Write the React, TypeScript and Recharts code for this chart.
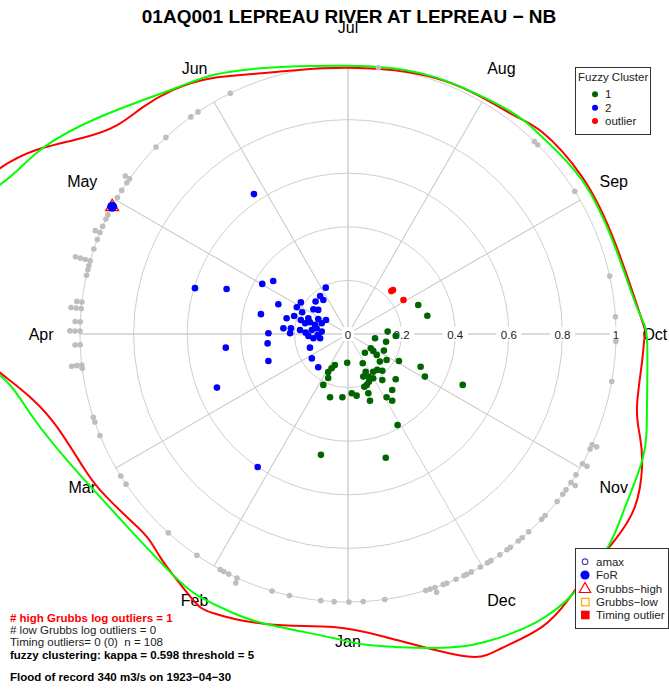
import React from 'react';
import { ScatterChart, Scatter, XAxis, YAxis } from 'recharts';

// page / polar frame
const W = 669;
const H = 689;
const CX = 348; // pixel of the polar centre
const CY = 334;
const UNIT = 268; // pixels for radius 1
const XMIN = -CX / UNIT;
const XMAX = (W - CX) / UNIT;
const YMAX = CY / UNIT;
const YMIN = -(H - CY) / UNIT;
const FONT = '"Liberation Sans", Arial, Helvetica, sans-serif';
const GRID = '#cfcfcf';

const MONTHS = ['Jan', 'Feb', 'Mar', 'Apr', 'May', 'Jun', 'Jul', 'Aug', 'Sep', 'Oct', 'Nov', 'Dec'];
const RING_TICKS = [0, 0.2, 0.4, 0.6, 0.8, 1];

// annual maxima: [day of year, stack level]
const AMAX: [number, number][] = [
	[189.1, 0], [227.2, 0], [228.2, 0], [241.1, 0], [261.1, 0], [270.0, 0], [275.4, 0], [284.1, 0],
	[298.5, 0], [298.5, 1], [299.5, 0], [303.1, 0], [303.1, 1], [305.9, 0], [307.9, 0], [307.9, 1],
	[309.8, 0], [311.0, 0], [313.0, 0], [317.0, 0], [318.1, 0], [322.0, 0], [323.9, 0], [325.0, 0],
	[327.2, 0], [328.1, 0], [330.0, 0], [332.3, 0], [333.2, 0], [335.0, 0], [337.2, 0], [338.3, 0],
	[339.0, 0], [340.9, 0], [343.1, 0], [343.9, 0], [345.8, 0], [345.8, 1], [346.9, 0], [347.9, 0],
	[357.0, 0], [361.7, 0], [364.8, 0], [3.0, 0], [5.9, 0], [12.8, 0], [16.7, 0], [24.8, 0],
	[24.6, 1], [26.8, 0], [28.0, 0], [28.9, 0], [34.8, 0], [42.7, 0], [56.7, 0], [58.8, 0],
	[68.7, 0], [71.8, 0], [72.9, 0], [83.8, 0], [84.5, 0], [84.5, 1], [84.5, 2], [88.9, 0],
	[88.9, 1], [91.9, 0], [91.9, 1], [91.9, 2], [93.9, 0], [93.9, 1], [96.8, 0], [96.8, 1],
	[96.8, 2], [98.2, 0], [98.2, 1], [104.1, 0], [105.3, 0], [106.2, 0], [107.3, 0], [107.3, 1],
	[107.3, 2], [107.3, 3], [110.0, 0], [112.2, 0], [113.8, 0], [113.8, 1], [115.3, 0], [117.0, 0],
	[118.0, 0], [120.0, 0], [122.3, 0], [124.1, 0], [126.1, 0], [127.1, 0], [127.1, 1], [136.1, 0],
	[139.1, 0], [146.1, 0], [148.0, 0], [156.1, 0],
];
const STACK = 0.019;

// fuzzy cluster scores [x, y]
const CLUSTER1: [number, number][] = [
	[0.262, 0.108], [0.296, 0.068], [0.148, 0.009], [0.178, -0.007], [0.101, -0.016], [0.142, -0.029],
	[0.085, -0.053], [0.094, -0.063], [0.134, -0.062], [0.063, -0.07], [0.107, -0.078], [0.144, -0.097],
	[0.119, -0.103], [0.19, -0.101], [-0.003, -0.107], [0.055, -0.109], [-0.049, -0.116], [-0.061, -0.128],
	[0.109, -0.134], [0.128, -0.137], [0.066, -0.141], [0.094, -0.141], [-0.074, -0.142], [0.076, -0.159],
	[0.057, -0.159], [0.094, -0.165], [0.271, -0.122], [0.287, -0.159], [-0.074, -0.164], [0.178, -0.169],
	[0.128, -0.172], [-0.092, -0.19], [0.07, -0.19], [0.078, -0.178], [0.061, -0.197], [0.165, -0.209],
	[0.076, -0.221], [0.014, -0.221], [0.032, -0.23], [-0.067, -0.236], [-0.021, -0.236], [0.144, -0.236],
	[0.165, -0.249], [0.082, -0.249], [0.428, -0.19], [0.185, -0.34], [0.141, -0.462], [-0.101, -0.451],
];
const CLUSTER2: [number, number][] = [
	[-0.351, 0.522], [-0.571, 0.171], [-0.453, 0.168], [-0.32, 0.187], [-0.279, 0.198], [-0.26, 0.111],
	[-0.325, 0.074], [-0.297, 0.003], [-0.456, -0.051], [-0.3, -0.035], [-0.297, -0.101], [-0.489, -0.2],
	[-0.337, -0.496], [-0.083, 0.173], [-0.104, 0.142], [-0.092, 0.127], [-0.121, 0.121], [-0.176, 0.118],
	[-0.191, 0.1], [-0.129, 0.092], [-0.171, 0.081], [-0.201, 0.067], [-0.229, 0.059], [-0.111, 0.056],
	[-0.082, 0.052], [-0.176, 0.052], [-0.148, 0.059], [-0.142, 0.044], [-0.098, 0.04], [-0.123, 0.034],
	[-0.241, 0.021], [-0.213, 0.021], [-0.179, 0.015], [-0.158, 0.005], [-0.098, 0.009], [-0.113, -0.004],
	[-0.129, -0.016], [-0.216, 0.003], [-0.142, -0.051], [-0.135, -0.091], [-0.111, -0.124], [-0.111, 0.09],
	[-0.135, 0.015], [-0.117, 0.021], [-0.16, 0.04], [-0.104, -0.016], [-0.148, -0.007],
];
const OUTLIERS: [number, number][] = [[0.162, 0.16], [0.168, 0.164], [0.207, 0.127]];

// flood of record, 1923-04-30
const FLOOD_DAY = 120;

// seasonal density curves: [day of year, radius]
const DENS_MIXTURE: [number, number][] = [
	[93.3, 1.45], [101.4, 1.5], [109.5, 1.48], [116.5, 1.391], [123.1, 1.333], [133, 1.23], [146.5, 1.123],
	[154.6, 1.09], [165.4, 1.038], [179.3, 1.002], [189, 1.003], [201.5, 1.012], [218.5, 1.027], [227.7, 1.032],
	[240, 1.045], [255.5, 1.048], [269, 1.086], [274.9, 1.116], [287.6, 1.148], [296.7, 1.193], [306.2, 1.219],
	[313.6, 1.254], [323.1, 1.282], [331.6, 1.284], [340.7, 1.258], [349.3, 1.216], [361.2, 1.163], [2.8, 1.136],
	[15.8, 1.124], [22.7, 1.126], [29.8, 1.126], [36.5, 1.111], [47.9, 1.093], [57.5, 1.107], [66.7, 1.149],
	[76.2, 1.216], [82.5, 1.275], [87.2, 1.36], [93.3, 1.45],
];
const DENS_KERNEL: [number, number][] = [
	[91.3, 1.45], [101.4, 1.52], [111.5, 1.5], [118.6, 1.415], [123.1, 1.333], [128.3, 1.23], [133.9, 1.162],
	[139.8, 1.141], [146.4, 1.12], [154.3, 1.08], [165.1, 1.02], [179.7, 0.994], [201.6, 1.009], [218.8, 1.021],
	[226.9, 1.045], [239.4, 1.052], [254.7, 1.053], [271.0, 1.098], [274.0, 1.108], [279.4, 1.102], [288.1, 1.112],
	[293.4, 1.155], [298.4, 1.204], [305.3, 1.25], [312.0, 1.258], [319.3, 1.264], [324.9, 1.288], [331.0, 1.311],
	[338.5, 1.305], [343.2, 1.295], [349.4, 1.223], [357.9, 1.139], [2.9, 1.095], [15.8, 1.124], [26.2, 1.157],
	[30.6, 1.149], [36.5, 1.111], [40.7, 1.088], [45.3, 1.066], [51.1, 1.071], [58.6, 1.093], [64.2, 1.106],
	[73.3, 1.14], [79.3, 1.201], [83.3, 1.273], [87.2, 1.36], [91.3, 1.45],
];

// Jan 1 at the bottom, running clockwise
function toXY(day: number, r: number) {
	const a = -Math.PI / 2 - (2 * Math.PI * day) / 365;
	return { x: r * Math.cos(a), y: r * Math.sin(a) };
}
function monthXY(i: number, r: number) {
	const a = -Math.PI / 2 - (i * Math.PI) / 6;
	return { x: r * Math.cos(a), y: r * Math.sin(a) };
}

const ringData = RING_TICKS.filter((t) => t > 0).map((t) => ({ x: 0, y: 0, ring: t }));
const spokeData = MONTHS.flatMap((_, i) => [{ x: 0, y: 0 }, monthXY(i, 1)]);
const tickData = RING_TICKS.map((t) => ({ x: t, y: 0, label: String(t) }));
const monthData = MONTHS.map((m, i) => ({ ...monthXY(i, 1.145), label: m }));
const amaxData = AMAX.map(([d, k]) => toXY(d, 1 + k * STACK));
const xy = (p: [number, number][]) => p.map(([x, y]) => ({ x, y }));
const floodData = [toXY(FLOOD_DAY, 1)];

const Empty = () => <g />;
const dot = (r: number, fill: string) => (p: any) => <circle cx={p.cx} cy={p.cy} r={r} fill={fill} />;

const RingShape = (p: any) => (
	<circle cx={p.cx} cy={p.cy} r={p.payload.ring * UNIT} fill="none" stroke={GRID} strokeWidth={1} />
);
const TickLabel = (p: any) => {
	const w = p.payload.label.length * 6.4 + 6;
	return (
		<g>
			<rect x={p.cx - w / 2} y={p.cy - 7} width={w} height={14} fill="#fff" />
			<text x={p.cx} y={p.cy + 5} textAnchor="middle" fontSize={11.5} fontFamily={FONT} fill="#222">
				{p.payload.label}
			</text>
		</g>
	);
};
const MonthLabel = (p: any) => (
	<text x={p.cx} y={p.cy + 6} textAnchor="middle" fontSize={16} fontFamily={FONT} fill="#000">
		{p.payload.label}
	</text>
);
const FloodShape = (p: any) => (
	<g>
		<polygon
			points={`${p.cx},${p.cy - 7.5} ${p.cx - 6.5},${p.cy + 4} ${p.cx + 6.5},${p.cy + 4}`}
			fill="none"
			stroke="#ff0000"
			strokeWidth={1.3}
		/>
		<circle cx={p.cx} cy={p.cy} r={5} fill="#0000ff" />
	</g>
);

const CLUSTER_KEYS = [
	{ label: '1', color: '#006400' },
	{ label: '2', color: '#0000ff' },
	{ label: 'outlier', color: '#ff0000' },
];

function Annotations() {
	const t = { fontFamily: FONT, fontSize: 11.5 };
	return (
		<svg width={W} height={H} style={{ position: 'absolute', left: 0, top: 0, pointerEvents: 'none' }}>
			<text x={349} y={23} textAnchor="middle" fontFamily={FONT} fontSize={19} fontWeight="bold" fill="#000">
				01AQ001 LEPREAU RIVER AT LEPREAU − NB
			</text>

			<rect x={575.5} y={67.5} width={75} height={67} fill="#fff" stroke="#333" />
			<text x={578} y={80.5} {...t} fill="#222">Fuzzy Cluster</text>
			{CLUSTER_KEYS.map((k, i) => (
				<g key={k.label}>
					<circle cx={595} cy={94.3 + i * 13.4} r={3} fill={k.color} />
					<text x={605} y={98.3 + i * 13.4} {...t} fill="#222">{k.label}</text>
				</g>
			))}

			<rect x={575.5} y={548.5} width={93} height={80} fill="#fff" stroke="#333" />
			<circle cx={585} cy={561.7} r={2.8} fill="none" stroke="#4545a5" strokeWidth={1.1} />
			<circle cx={585} cy={575} r={4.6} fill="#0000ff" />
			<polygon points="585,582.5 579.3,592.5 590.7,592.5" fill="none" stroke="#ff0000" strokeWidth={1.2} />
			<rect x={581.5} y={598.3} width={7.5} height={7.5} fill="none" stroke="#ffa500" strokeWidth={1.2} />
			<rect x={581} y={610.7} width={8.6} height={8.6} fill="#ff0000" />
			{['amax', 'FoR', 'Grubbs−high', 'Grubbs−low', 'Timing outlier'].map((s, i) => (
				<text key={s} x={596} y={565.8 + i * 13.35} {...t} fill="#222">{s}</text>
			))}

			<text x={10} y={621.5} {...t} fontWeight="bold" fill="#ff0000"># high Grubbs log outliers = 1</text>
			<text x={10} y={633.6} {...t} fill="#222"># low Grubbs log outliers = 0</text>
			<text x={10} y={645.9} {...t} fill="#222" style={{ whiteSpace: 'pre' }}>Timing outliers= 0 (0)  n = 108</text>
			<text x={10} y={658.5} {...t} fontWeight="bold" fill="#000">fuzzy clustering: kappa = 0.598 threshold = 5</text>
			<text x={10} y={681} {...t} fontWeight="bold" fill="#000">Flood of record 340 m3/s on 1923−04−30</text>
		</svg>
	);
}

export default function App() {
	return (
		<div style={{ position: 'absolute', left: 0, top: 0, width: W, height: H, background: '#fff' }}>
			<ScatterChart width={W} height={H} margin={{ top: 0, right: 0, bottom: 0, left: 0 }}>
				<XAxis type="number" dataKey="x" domain={[XMIN, XMAX]} allowDataOverflow hide />
				<YAxis type="number" dataKey="y" domain={[YMIN, YMAX]} allowDataOverflow hide />
				<Scatter data={ringData} shape={RingShape} isAnimationActive={false} />
				<Scatter data={spokeData} line={{ stroke: GRID, strokeWidth: 1 }} shape={Empty} isAnimationActive={false} />
				<Scatter data={tickData} shape={TickLabel} isAnimationActive={false} />
				<Scatter data={monthData} shape={MonthLabel} isAnimationActive={false} />
				<Scatter
					data={DENS_KERNEL.map(([d, r]) => toXY(d, r))}
					line={{ stroke: '#ff0000', strokeWidth: 2 }}
					lineJointType="natural"
					shape={Empty}
					isAnimationActive={false}
				/>
				<Scatter
					data={DENS_MIXTURE.map(([d, r]) => toXY(d, r))}
					line={{ stroke: '#00ff00', strokeWidth: 2 }}
					lineJointType="natural"
					shape={Empty}
					isAnimationActive={false}
				/>
				<Scatter data={amaxData} shape={dot(2.8, '#bebebe')} isAnimationActive={false} />
				<Scatter data={xy(CLUSTER1)} shape={dot(3.3, '#006400')} isAnimationActive={false} />
				<Scatter data={xy(CLUSTER2)} shape={dot(3.3, '#0000ff')} isAnimationActive={false} />
				<Scatter data={xy(OUTLIERS)} shape={dot(3.3, '#ff0000')} isAnimationActive={false} />
				<Scatter data={floodData} shape={FloodShape} isAnimationActive={false} />
			</ScatterChart>
			<Annotations />
		</div>
	);
}
